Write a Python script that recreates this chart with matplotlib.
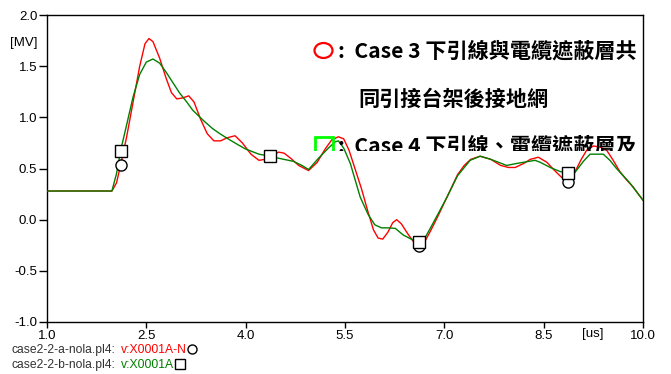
import numpy as np
import matplotlib
matplotlib.use("Agg")
import matplotlib.pyplot as plt
from matplotlib.patches import Ellipse, Rectangle

# --- data (time in us, voltage in MV) ---
red_t = [1.0, 1.98, 2.05, 2.11, 2.2, 2.3, 2.4, 2.48, 2.54, 2.6, 2.7, 2.8, 2.88,
         2.96, 3.05, 3.14, 3.22, 3.32, 3.42, 3.52, 3.62, 3.72, 3.84, 3.95, 4.08,
         4.2, 4.3, 4.4, 4.5, 4.58, 4.68, 4.8, 4.95, 5.08, 5.2, 5.3, 5.4, 5.48,
         5.56, 5.65, 5.75, 5.85, 5.93, 6.0, 6.07, 6.15, 6.22, 6.28, 6.35, 6.45,
         6.55, 6.62, 6.7, 6.8, 6.9, 7.04, 7.2, 7.3, 7.4, 7.54, 7.7, 7.85, 7.97,
         8.07, 8.2, 8.3, 8.42, 8.55, 8.65, 8.76, 8.86, 8.96, 9.06, 9.15, 9.25,
         9.35, 9.45, 9.55, 9.65, 9.75, 9.85, 9.93, 10.0]
red_v = [0.28, 0.28, 0.36, 0.53, 0.80, 1.15, 1.50, 1.72, 1.77, 1.74, 1.58, 1.38, 1.24,
         1.18, 1.19, 1.21, 1.15, 0.98, 0.84, 0.77, 0.77, 0.80, 0.82, 0.75, 0.64,
         0.58, 0.59, 0.63, 0.66, 0.65, 0.60, 0.53, 0.48, 0.56, 0.69, 0.78, 0.81, 0.79,
         0.68, 0.50, 0.30, 0.07, -0.10, -0.18, -0.19, -0.12, -0.03, 0.0, -0.04, -0.14,
         -0.23, -0.26, -0.22, -0.10, 0.03, 0.22, 0.44, 0.53, 0.59, 0.62, 0.59, 0.53, 0.51,
         0.51, 0.55, 0.59, 0.61, 0.56, 0.49, 0.42, 0.37, 0.45, 0.58, 0.68, 0.72,
         0.71, 0.68, 0.58, 0.47, 0.39, 0.32, 0.25, 0.19]

green_t = [1.0, 1.98, 2.05, 2.11, 2.2, 2.3, 2.4, 2.5, 2.6, 2.7, 2.8, 2.9, 3.0, 3.11,
           3.2, 3.36, 3.5, 3.61, 3.76, 3.89, 4.0, 4.2, 4.37, 4.5, 4.72, 4.85, 4.95,
           5.1, 5.25, 5.35, 5.4, 5.48, 5.58, 5.73, 5.85, 5.95, 6.05, 6.15, 6.26, 6.38,
           6.5, 6.6, 6.68, 6.8, 6.9, 7.04, 7.2, 7.39, 7.54, 7.7, 7.94, 8.1, 8.37, 8.45,
           8.6, 8.75, 8.84, 8.97, 9.1, 9.2, 9.4, 9.5, 9.6, 9.8, 10.0]
green_v = [0.28, 0.28, 0.45, 0.67, 0.92, 1.20, 1.42, 1.54, 1.57, 1.53, 1.44, 1.34, 1.24, 1.15,
           1.07, 0.97, 0.89, 0.84, 0.78, 0.73, 0.69, 0.64, 0.62, 0.60, 0.57, 0.53, 0.49,
           0.60, 0.70, 0.76, 0.77, 0.70, 0.55, 0.22, 0.05, -0.05, -0.08, -0.08, -0.085, -0.15,
           -0.19, -0.22, -0.21, -0.07, 0.05, 0.22, 0.43, 0.58, 0.62, 0.59, 0.53, 0.55, 0.58, 0.56,
           0.51, 0.47, 0.46, 0.46, 0.57, 0.64, 0.64, 0.58, 0.50, 0.36, 0.19]

marker_t = [2.11, 4.37, 6.62, 8.86]

x_ticks = [1.0, 2.5, 4.0, 5.5, 7.0, 8.5, 10.0]
y_ticks = [-1.0, -0.5, 0.0, 0.5, 1.0, 1.5, 2.0]

legend_line1 = ":  Case 3 下引線與電纜遮蔽層共"
legend_line2 = "同引接台架後接地網"
legend_line3 = ":  Case 4 下引線、電纜遮蔽層及"

W, H = 671, 374
fig = plt.figure(figsize=(W / 100, H / 100), dpi=100)
ax = fig.add_axes([47 / W, (H - 322) / H, (643 - 47) / W, (322 - 15) / H])

ax.plot(red_t, red_v, color="#ff0000", lw=1.0, zorder=2)
ax.plot(green_t, green_v, color="#008000", lw=1.0, zorder=3)

mr = np.interp(marker_t, red_t, red_v)
mg = np.interp(marker_t, green_t, green_v)
ax.plot(marker_t, mr, ls="none", marker="o", ms=8, mfc="white", mec="black", mew=1.0, zorder=4)
ax.plot(marker_t, mg, ls="none", marker="s", ms=8, mfc="white", mec="black", mew=1.0, zorder=5)

ax.set_xlim(1.0, 10.0)
ax.set_ylim(-1.0, 2.0)
ax.set_xticks(x_ticks)
ax.set_yticks(y_ticks)
ax.set_xticklabels([f"{v:.1f}" for v in x_ticks], fontsize=9.5, family="Liberation Sans")
ax.set_yticklabels([f"{v:.1f}" for v in y_ticks], fontsize=9.5, family="Liberation Sans")
ax.tick_params(axis="y", direction="out", length=6, width=1, pad=1)
ax.tick_params(axis="x", direction="out", length=4, width=1, pad=2)
for s in ax.spines.values():
    s.set_linewidth(1.0)
    s.set_color("black")

fig.text(24 / W, 1 - 43 / H, "[MV]", fontsize=9.5, family="Liberation Sans",
         ha="center", va="center")
fig.text(593 / W, 1 - 334 / H, "[us]", fontsize=9.5, family="Liberation Sans",
         ha="center", va="center")

# file / variable lines under the plot
small = dict(fontsize=8.7, family="Liberation Sans", va="center")
fig.text(12 / W, 1 - 350 / H, "case2-2-a-nola.pl4:", color="#333333", **small)
fig.text(121 / W, 1 - 350 / H, "v:X0001A-N", color="#ff0000", **small)
fig.text(12 / W, 1 - 365 / H, "case2-2-b-nola.pl4:", color="#333333", **small)
fig.text(121 / W, 1 - 365 / H, "v:X0001A", color="#008000", **small)
fig.lines.append(plt.Line2D([192 / W], [1 - 349 / H], transform=fig.transFigure,
                            marker="o", ms=6.5, mfc="none", mec="black", mew=1.0))
fig.lines.append(plt.Line2D([179.5 / W], [1 - 364 / H], transform=fig.transFigure,
                            marker="s", ms=6.5, mfc="none", mec="black", mew=1.0))

# overlaid legend text box (clipped at its bottom like the reference)
lax = fig.add_axes([300 / W, (H - 151) / H, 343 / W, 121 / H])
lax.set_xlim(300, 643)
lax.set_ylim(151, 30)
lax.axis("off")
lax.patch.set_alpha(0)
cjk = dict(family=["Noto Sans CJK TC", "DejaVu Sans"], fontweight="bold",
           fontsize=15.2, va="center", ha="left", clip_on=True)
lax.add_patch(Ellipse((323.5, 50.5), 18, 15, fill=False, ec="#ff0000", lw=1.6))
lax.text(338, 51, legend_line1, **cjk)
lax.text(358, 99, legend_line2, **cjk)
lax.add_patch(Rectangle((314.5, 137.5), 18, 20, fill=False, ec="#00ff00", lw=2.0,
                        clip_on=True))
lax.text(338, 146, legend_line3, **cjk)

fig.savefig("out.png", dpi=100)
